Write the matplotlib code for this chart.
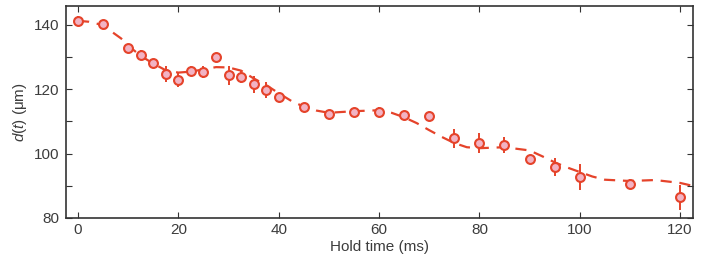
import numpy as np
import matplotlib.pyplot as plt

# données mesurées
t_ms = [0, 5, 10, 12.5, 15, 17.5, 20, 22.5, 25, 27.5, 30, 32.5, 35, 37.5, 40,
        45, 50, 55, 60, 65, 70, 75, 80, 85, 90, 95, 100, 110, 120]
d_um = [141.2, 140.2, 132.7, 130.8, 128.1, 124.7, 122.9, 125.7, 125.4, 129.9,
        124.3, 123.9, 121.5, 119.8, 117.5, 114.4, 112.3, 113.0, 113.0, 111.9,
        111.6, 104.8, 103.3, 102.6, 98.2, 95.7, 92.7, 90.6, 86.4]
err_um = [1.5, 1.0, 1.0, 1.5, 1.2, 2.5, 2.2, 1.5, 2.0, 1.3,
          3.0, 1.8, 2.5, 2.5, 1.3, 1.0, 1.0, 1.0, 1.5, 1.0,
          1.0, 3.0, 3.0, 2.5, 1.0, 2.8, 4.0, 1.5, 4.0]

# courbe d'ajustement
fit_t = [0, 2.2, 4.3, 6.9, 8.6, 9.9, 12.5, 15, 17.5, 20, 22.5, 25, 27.5, 30,
         32.5, 35, 37.5, 40, 42.5, 45, 47.5, 50, 55, 60, 62.5, 65, 67.5, 70,
         72.5, 75, 77.5, 80, 85, 90, 92.5, 95, 97.5, 100, 102.5, 105, 110,
         115, 120, 122.5]
fit_d = [141.3, 141.0, 140.2, 137.7, 135.8, 133.7, 130.4, 128.0, 125.9, 125.2,
         125.5, 126.2, 126.9, 126.8, 125.8, 123.4, 121.3, 118.8, 116.4, 114.6,
         113.4, 112.7, 113.2, 113.5, 112.7, 111.3, 109.5, 107.3, 105.2, 103.3,
         102.0, 101.7, 102.0, 101.0, 99.2, 97.3, 95.7, 94.3, 92.9, 91.9, 91.5,
         91.8, 90.9, 90.0]

rouge = '#e5432a'
rose = '#f2b3c4'
gris = '#3c3c3c'

plt.rcParams['font.family'] = ['Liberation Sans', 'DejaVu Sans']
plt.rcParams['mathtext.fontset'] = 'custom'
plt.rcParams['mathtext.it'] = 'Liberation Sans:italic'
plt.rcParams['mathtext.rm'] = 'Liberation Sans'

fig = plt.figure(figsize=(7.08, 2.68), dpi=100)
ax = fig.add_axes([0.0932, 0.1866, 0.8858, 0.791])

ax.plot(fit_t, fit_d, color=rouge, lw=1.6, dashes=(5, 3.5), zorder=1)
ax.errorbar(t_ms, d_um, yerr=err_um, fmt='o', color=rouge, ms=6.4,
            mfc=rose, mec=rouge, mew=1.5, elinewidth=1.4, capsize=0, zorder=2)

ax.set_xlim(-2.4, 122.6)
ax.set_ylim(80, 145.9)
ax.set_xticks([0, 20, 40, 60, 80, 100, 120])
ax.set_yticks([80, 100, 120, 140])
ax.set_yticks([90, 110, 130], minor=True)
ax.tick_params(direction='in', top=True, right=True, labelsize=11,
               length=4, width=0.8, colors='#333333', labelcolor=gris)
ax.tick_params(axis='y', pad=5)
ax.tick_params(which='minor', direction='in', right=True, length=4, width=0.8,
               colors='#333333')
for s in ax.spines.values():
    s.set_linewidth(1.2)
    s.set_color('#333333')

ax.set_xlabel('Hold time (ms)', fontsize=11, color=gris, labelpad=2)
ax.set_ylabel(r'$d$($t$) (μm)', fontsize=11, color=gris, labelpad=3)

fig.savefig('out.png', dpi=100)
